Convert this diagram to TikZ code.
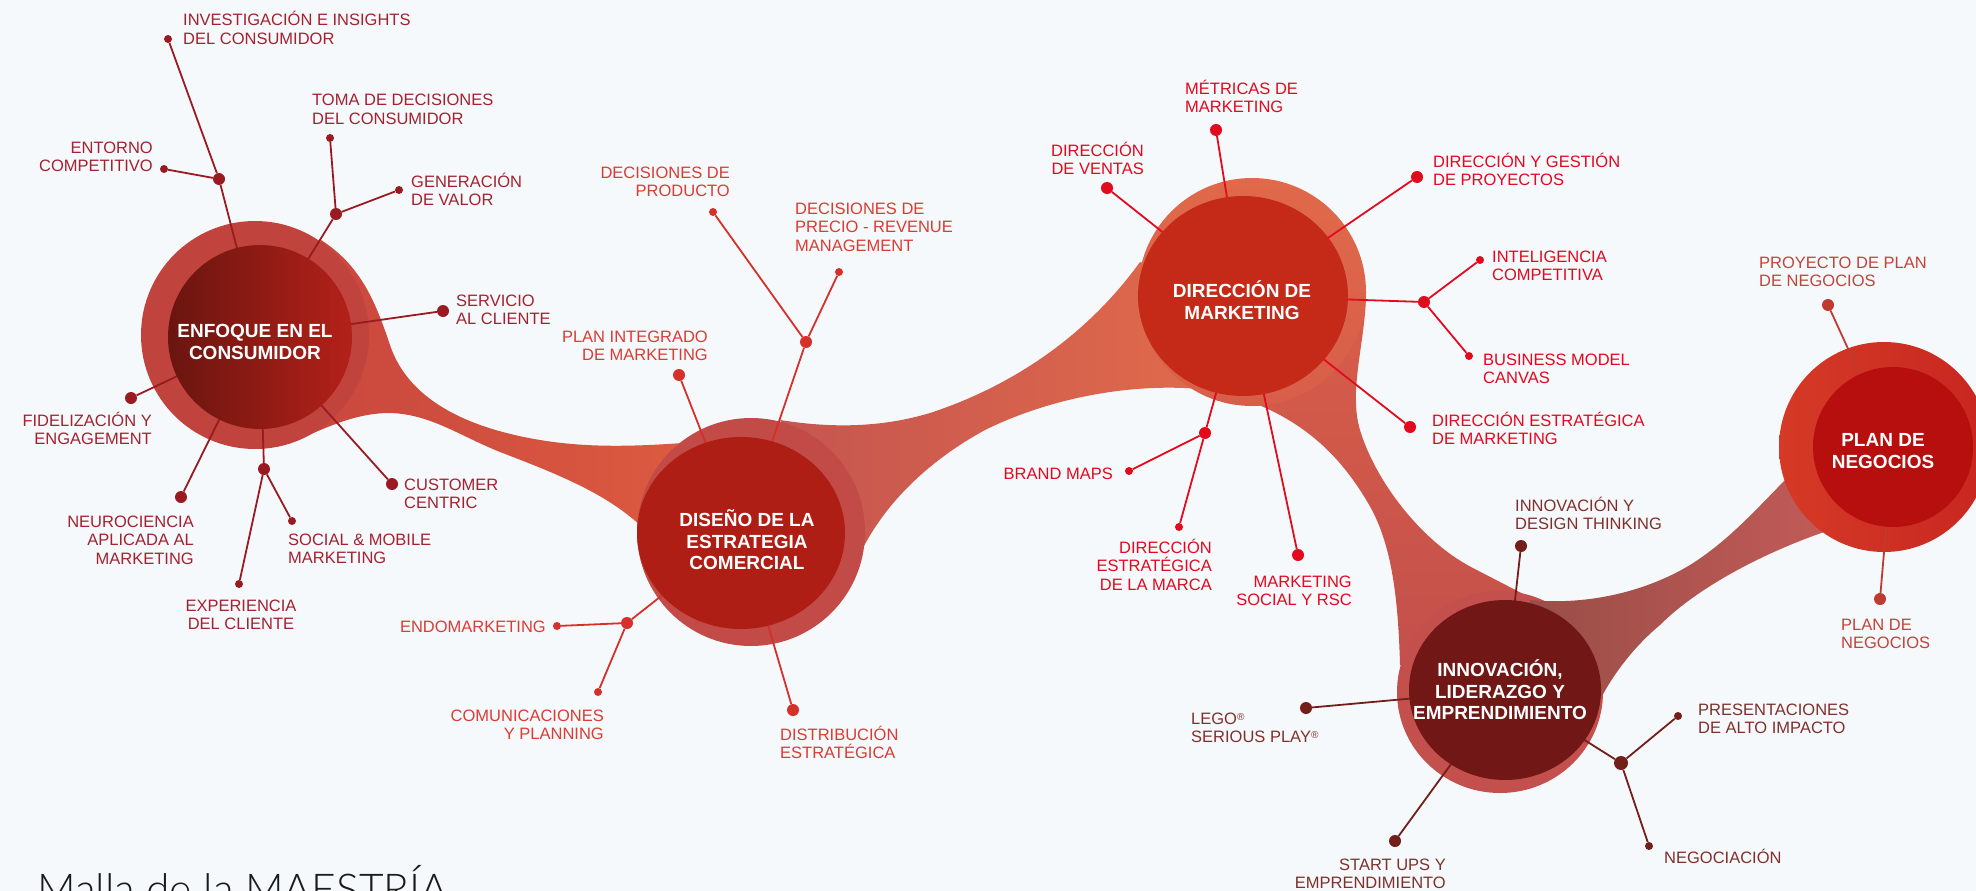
\documentclass[tikz,border=0pt]{standalone}
\usepackage{fontspec}
\setmainfont{Liberation Sans}
\newfontfamily\titlefont{Lato Light}

\definecolor{bg}{HTML}{F6F9FC}
\definecolor{ribA1}{HTML}{C6443E}
\definecolor{ribA2}{HTML}{DE5C3F}
\definecolor{ribB1}{HTML}{C55550}
\definecolor{ribB2}{HTML}{E36C4A}
\definecolor{ribC1}{HTML}{D85E49}
\definecolor{ribC2}{HTML}{C24F4C}
\definecolor{ribE1}{HTML}{984D46}
\definecolor{ribE2}{HTML}{C65C5A}
\definecolor{enfouter}{HTML}{C1433E}
\definecolor{enfdark}{HTML}{6A150F}
\definecolor{enflight}{HTML}{B32119}
\definecolor{disouter}{HTML}{C24A47}
\definecolor{disinner}{HTML}{AE1E14}
\definecolor{dirouter}{HTML}{E0694A}
\definecolor{dirinner}{HTML}{C42A17}
\definecolor{innouter}{HTML}{C4504D}
\definecolor{inninner}{HTML}{711716}
\definecolor{planouter1}{HTML}{D53A26}
\definecolor{planouter2}{HTML}{C82620}
\definecolor{planinner}{HTML}{B60F0D}
\definecolor{enfline}{HTML}{9A1A22}
\definecolor{enftext}{HTML}{A3222F}
\definecolor{disline}{HTML}{D5302A}
\definecolor{distext}{HTML}{DB3B33}
\definecolor{dirline}{HTML}{E20A1D}
\definecolor{dirtext}{HTML}{E4081E}
\definecolor{innline}{HTML}{731E18}
\definecolor{inntext}{HTML}{80302A}
\definecolor{planline}{HTML}{BF3A30}
\definecolor{plantext}{HTML}{C2433A}
\definecolor{titlecol}{HTML}{1A1A1A}

\newcommand\lblfont{\fontsize{16.5}{18.5}\selectfont}
\newcommand\hubfont{\bfseries\fontsize{19}{21.5}\selectfont}
\newcommand\regmark{\raisebox{4pt}{\fontsize{10}{10}\selectfont ®}}

\begin{document}
\begin{tikzpicture}[x=1pt, y=-1pt,
  enddot/.style={circle, fill, inner sep=0pt, minimum size=8pt},
  bigdot/.style={enddot, minimum size=12pt},
  lbl/.style={inner sep=0pt, font=\lblfont},
  lbll/.style={lbl, align=left, anchor=base west},
  lblr/.style={lbl, align=right, anchor=base east},
  lblc/.style={lbl, align=center, anchor=base},
  hubtext/.style={inner sep=0pt, text=white, font=\hubfont, align=center},
  leg/.style={line width=1.8pt}]
  \useasboundingbox (0,0) rectangle (1976,891);
  \clip (0,0) rectangle (1976,891);
  \fill[bg] (0,0) rectangle (1976,891);

  % hubs
  \coordinate (enf) at (260,337);
  \coordinate (dis) at (741,533);
  \coordinate (dir) at (1243,296);
  \coordinate (inn) at (1505,690);
  \coordinate (plan) at (1893,447);

  % ribbon
  \shade[left color=ribA1, right color=ribA2] (321,240) .. controls (360,265) and (375,300) .. (390,345)
    .. controls (405,390) and (450,425) .. (540,440) .. controls (600,450) and (660,445) .. (720,440)
    -- (700,560) -- (645,530) .. controls (610,495) and (560,475) .. (500,452)
    .. controls (460,436) and (430,414) .. (390,413) .. controls (350,413) and (320,432) .. (290,442)
    -- (255,380) -- cycle;
  \shade[left color=ribB1, right color=ribB2] (780,420) .. controls (830,428) and (880,428) .. (930,413)
    .. controls (1000,390) and (1080,345) .. (1140,262) -- (1250,300) -- (1200,389)
    .. controls (1130,383) and (1050,398) .. (985,430) .. controls (930,460) and (880,505) .. (855,565)
    -- cycle;
  \shade[top color=ribC1, bottom color=ribC2] (1366,292) .. controls (1366,340) and (1348,390) .. (1360,430)
    .. controls (1375,480) and (1420,540) .. (1471,567) .. controls (1500,582) and (1525,595) .. (1545,605)
    -- (1505,690) -- (1400,665) .. controls (1398,590) and (1390,540) .. (1368,503)
    .. controls (1340,455) and (1300,415) .. (1230,395) -- (1250,300) -- cycle;

  \fill[enfouter] (255,335) circle[radius=114pt];
  \fill[disouter] (751,532) circle[radius=114pt];
  \shade[top color=dirouter, bottom color=ribC1] (1252,292) circle[radius=114pt];
  \fill[innouter] (1500,692) ellipse[x radius=103pt, y radius=101pt];

  \shade[left color=ribE1, right color=ribE2] (1530,600) .. controls (1580,605) and (1640,595) .. (1690,565)
    .. controls (1730,540) and (1760,505) .. (1790,475) -- (1860,450) -- (1830,530)
    .. controls (1770,550) and (1700,585) .. (1660,625) .. controls (1630,650) and (1610,680) .. (1600,700)
    -- (1520,680) -- cycle;
  \shade[left color=planouter1, right color=planouter2] (1884,447) circle[radius=105pt];

  % enfoque en el consumidor
  \begin{scope}[enfline, text=enftext]
    \node[enddot] (inv) at (168,39) {};
    \node[bigdot] (ej1) at (219,179) {};
    \node[enddot] (ent) at (164,169) {};
    \node[enddot] (toma) at (330,138) {};
    \node[bigdot] (ej2) at (336,214) {};
    \node[enddot] (gen) at (399,190) {};
    \node[bigdot] (serv) at (443,311) {};
    \node[bigdot] (fid) at (131,398) {};
    \node[bigdot] (neu) at (181,497) {};
    \node[bigdot] (ej3) at (264,469) {};
    \node[enddot] (soc) at (292,521) {};
    \node[enddot] (expc) at (239,584) {};
    \node[bigdot] (cus) at (392,484) {};
    \foreach \a/\b in {inv/ej1, ent/ej1, ej1/enf, toma/ej2, gen/ej2, ej2/enf, serv/enf,
                      fid/enf, neu/enf, ej3/enf, soc/ej3, expc/ej3, cus/enf}
      \draw[leg] (\a) -- (\b);
    \node[lbll] (invl) at (183,44.5) {INVESTIGACIÓN E INSIGHTS\\DEL CONSUMIDOR};
    \node[lblr] (entl) at (153,171.5) {ENTORNO\\COMPETITIVO};
    \node[lbll] (tomal) at (312,124.5) {TOMA DE DECISIONES\\DEL CONSUMIDOR};
    \node[lbll] (genl) at (411,205.5) {GENERACIÓN\\DE VALOR};
    \node[lbll] (servl) at (456,324.5) {SERVICIO\\AL CLIENTE};
    \node[lblr] (fidl) at (152,444.5) {FIDELIZACIÓN Y\\ENGAGEMENT};
    \node[lblr] (neul) at (194,564) {NEUROCIENCIA\\APLICADA AL\\MARKETING};
    \node[lbll] (socl) at (288,563.5) {SOCIAL \& MOBILE\\MARKETING};
    \node[lblc] (expl) at (241,629.5) {EXPERIENCIA\\DEL CLIENTE};
    \node[lbll] (cusl) at (404,508.5) {CUSTOMER\\CENTRIC};
  \end{scope}

  % diseno de la estrategia comercial
  \begin{scope}[disline, text=distext]
    \node[enddot] (prod) at (713,212) {};
    \node[bigdot] (dj1) at (806,342) {};
    \node[enddot] (prec) at (839,272) {};
    \node[bigdot] (pint) at (679,375) {};
    \node[enddot] (endo) at (557,626) {};
    \node[bigdot] (dj2) at (627,623) {};
    \node[enddot] (com) at (598,692) {};
    \node[bigdot] (dist) at (793,710) {};
    \foreach \a/\b in {prod/dj1, prec/dj1, dj1/dis, pint/dis, endo/dj2, com/dj2, dj2/dis, dist/dis}
      \draw[leg] (\a) -- (\b);
    \node[lblr] (prodl) at (730,196.5) {DECISIONES DE\\PRODUCTO};
    \node[lbll] (precl) at (795,251) {DECISIONES DE\\PRECIO - REVENUE\\MANAGEMENT};
    \node[lblr] (pintl) at (708,360.5) {PLAN INTEGRADO\\DE MARKETING};
    \node[lblr] (endol) at (546,632) {ENDOMARKETING};
    \node[lblr] (coml) at (604,739.5) {COMUNICACIONES\\Y PLANNING};
    \node[lbll] (distl) at (780,758.5) {DISTRIBUCIÓN\\ESTRATÉGICA};
  \end{scope}

  % direccion de marketing
  \begin{scope}[dirline, text=dirtext]
    \node[bigdot] (met) at (1216,130) {};
    \node[bigdot] (ven) at (1107,188) {};
    \node[bigdot] (ges) at (1417,177) {};
    \node[bigdot] (rj1) at (1424,302) {};
    \node[enddot] (intc) at (1480,260) {};
    \node[enddot] (bus) at (1469,356) {};
    \node[bigdot] (dem) at (1410,427) {};
    \node[bigdot] (rj2) at (1205,433) {};
    \node[enddot] (bra) at (1129,471) {};
    \node[enddot] (mar) at (1179,527) {};
    \node[bigdot] (rsc) at (1298,555) {};
    \foreach \a/\b in {met/dir, ven/dir, ges/dir, rj1/dir, intc/rj1, bus/rj1, dem/dir,
                      rj2/dir, bra/rj2, mar/rj2, rsc/dir}
      \draw[leg] (\a) -- (\b);
    \node[lbll] (metl) at (1185,112.5) {MÉTRICAS DE\\MARKETING};
    \node[lblr] (venl) at (1144,174.5) {DIRECCIÓN\\DE VENTAS};
    \node[lbll] (gesl) at (1433,185.5) {DIRECCIÓN Y GESTIÓN\\DE PROYECTOS};
    \node[lbll] (intl) at (1492,280.5) {INTELIGENCIA\\COMPETITIVA};
    \node[lbll] (busl) at (1483,383.5) {BUSINESS MODEL\\CANVAS};
    \node[lbll] (deml) at (1432,444.5) {DIRECCIÓN ESTRATÉGICA\\DE MARKETING};
    \node[lblr] (bral) at (1113,479) {BRAND MAPS};
    \node[lblr] (marl) at (1212,590) {DIRECCIÓN\\ESTRATÉGICA\\DE LA MARCA};
    \node[lblr] (rscl) at (1352,605.5) {MARKETING\\SOCIAL Y RSC};
  \end{scope}

  % innovacion, liderazgo y emprendimiento
  \begin{scope}[innline, text=inntext]
    \node[bigdot] (dt) at (1521,546) {};
    \node[bigdot] (lego) at (1306,708) {};
    \node[bigdot] (st) at (1395,841) {};
    \node[bigdot, minimum size=14pt] (ij) at (1621,763) {};
    \node[enddot] (pre) at (1678,716) {};
    \node[enddot] (neg) at (1649,846) {};
    \foreach \a/\b in {dt/inn, lego/inn, st/inn, ij/inn, pre/ij, neg/ij}
      \draw[leg] (\a) -- (\b);
    \node[lbll] (dtl) at (1515,529.5) {INNOVACIÓN Y\\DESIGN THINKING};
    \node[lbll] (legol) at (1191,742.5) {LEGO\regmark\\SERIOUS PLAY\regmark};
    \node[lblr] (stl) at (1446,888.5) {START UPS Y\\EMPRENDIMIENTO};
    \node[lbll] (prel) at (1698,733.5) {PRESENTACIONES\\DE ALTO IMPACTO};
    \node[lbll] (negl) at (1664,863) {NEGOCIACIÓN};
  \end{scope}

  % plan de negocios
  \begin{scope}[planline, text=plantext]
    \node[bigdot] (proy) at (1828,305) {};
    \node[bigdot] (pdn) at (1880,599) {};
    \foreach \a/\b in {proy/plan, pdn/plan}
      \draw[leg] (\a) -- (\b);
    \node[lbll] (proyl) at (1759,286.5) {PROYECTO DE PLAN\\DE NEGOCIOS};
    \node[lbll] (pdnl) at (1841,648.5) {PLAN DE\\NEGOCIOS};
  \end{scope}

  % inner circles
  \shade[left color=enfdark, right color=enflight] (enf) circle[radius=92pt];
  \fill[disinner] (dis) ellipse[x radius=104pt, y radius=96pt];
  \fill[dirinner] (dir) ellipse[x radius=105pt, y radius=100pt];
  \fill[inninner] (inn) ellipse[x radius=96pt, y radius=90pt];
  \fill[planinner] (plan) circle[radius=80pt];

  \node[hubtext] (enfname) at (255,342) {ENFOQUE EN EL\\CONSUMIDOR};
  \node[hubtext] (disname) at (747,540) {DISEÑO DE LA\\ESTRATEGIA\\COMERCIAL};
  \node[hubtext] (dirname) at (1242,300) {DIRECCIÓN DE\\MARKETING};
  \node[hubtext] (innname) at (1500,690) {INNOVACIÓN,\\LIDERAZGO Y\\EMPRENDIMIENTO};
  \node[hubtext] (planname) at (1883,451) {PLAN DE\\NEGOCIOS};

  \node[anchor=base west, inner sep=0pt, text=titlecol, font=\titlefont\fontsize{42.5}{42.5}\selectfont] (title)
    at (37,904) {Malla de la MAESTRÍA};
\end{tikzpicture}
\end{document}
